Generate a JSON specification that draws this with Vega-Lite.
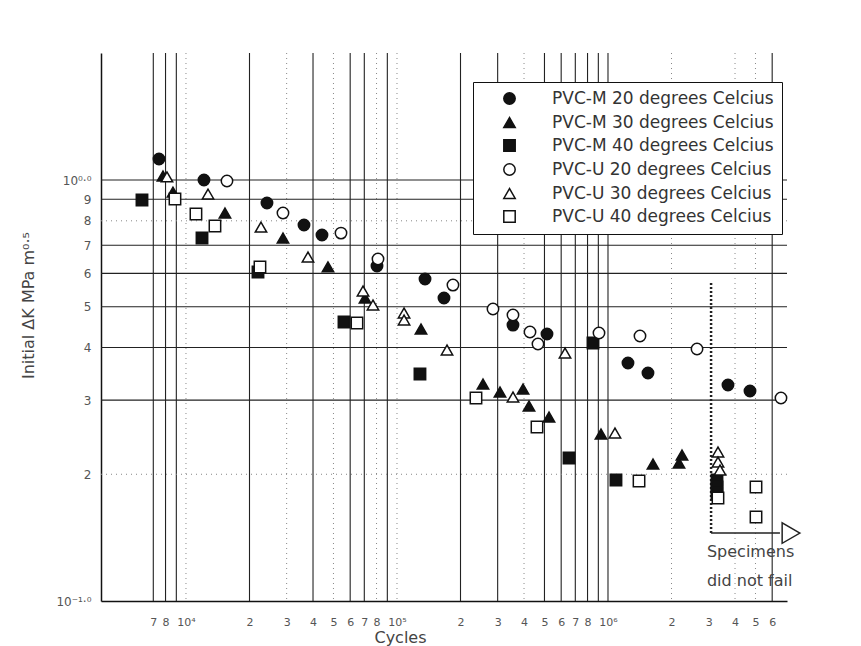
{
  "$schema": "https://vega.github.io/schema/vega-lite/v6.json",
  "width": 686,
  "height": 548,
  "autosize": {"type": "none"},
  "padding": {"left": 101, "top": 53, "right": 74, "bottom": 45},
  "background": "white",
  "config": {
    "view": {"stroke": null},
    "font": "DejaVu Sans",
    "axis": {"grid": false, "ticks": false, "domainColor": "#111", "domainWidth": 1.5, "labelColor": "#555", "labelFont": "DejaVu Sans", "titleFont": "DejaVu Sans", "titleFontWeight": "normal", "titleColor": "#444"},
    "legend": {"title": null, "orient": "none", "legendX": 372, "legendY": 29, "strokeColor": "#111", "fillColor": "white", "padding": 8, "labelFontSize": 17, "labelColor": "#333", "labelFont": "DejaVu Sans", "symbolSize": 130, "symbolStrokeWidth": 1.5, "rowPadding": 5, "labelOffset": 34, "symbolOffset": 20, "labelLimit": 400}
  },
  "datasets": {
    "vsolid": [{"Cycles": 7000}, {"Cycles": 8000}, {"Cycles": 9000}, {"Cycles": 20000}, {"Cycles": 40000}, {"Cycles": 60000}, {"Cycles": 70000}, {"Cycles": 90000}, {"Cycles": 200000}, {"Cycles": 300000}, {"Cycles": 500000}, {"Cycles": 600000}, {"Cycles": 700000}, {"Cycles": 800000}, {"Cycles": 900000}, {"Cycles": 1000000}, {"Cycles": 6000000}],
    "vdot": [{"Cycles": 10000}, {"Cycles": 30000}, {"Cycles": 50000}, {"Cycles": 80000}, {"Cycles": 100000}, {"Cycles": 400000}, {"Cycles": 2000000}, {"Cycles": 4000000}, {"Cycles": 5000000}],
    "hsolid": [{"dK": 1.0}, {"dK": 0.9}, {"dK": 0.7}, {"dK": 0.6}, {"dK": 0.5}, {"dK": 0.4}, {"dK": 0.3}],
    "hdot": [{"dK": 0.8}, {"dK": 0.2}],
    "annv": [{"Cycles": 3080000, "dK": 0.569, "dK2": 0.145}],
    "annh": [{"Cycles": 3080000, "Cycles2": 6530000, "dK": 0.145}],
    "arrow": [{"Cycles": 7370000, "dK": 0.145}],
    "anntext": [{"Cycles": 2945000, "dK": 0.1307, "label": "Specimens"}, {"Cycles": 2945000, "dK": 0.1117, "label": "did not fail"}],
    "points": [
      {"series": "PVC-M 20 degrees Celcius", "Cycles": 7450, "dK": 1.122},
      {"series": "PVC-M 20 degrees Celcius", "Cycles": 12170, "dK": 1.0},
      {"series": "PVC-M 20 degrees Celcius", "Cycles": 24200, "dK": 0.882},
      {"series": "PVC-M 20 degrees Celcius", "Cycles": 36250, "dK": 0.782},
      {"series": "PVC-M 20 degrees Celcius", "Cycles": 44110, "dK": 0.74},
      {"series": "PVC-M 20 degrees Celcius", "Cycles": 80400, "dK": 0.625},
      {"series": "PVC-M 20 degrees Celcius", "Cycles": 135800, "dK": 0.582},
      {"series": "PVC-M 20 degrees Celcius", "Cycles": 167000, "dK": 0.5245},
      {"series": "PVC-M 20 degrees Celcius", "Cycles": 354600, "dK": 0.4523},
      {"series": "PVC-M 20 degrees Celcius", "Cycles": 513900, "dK": 0.4307},
      {"series": "PVC-M 20 degrees Celcius", "Cycles": 1243700, "dK": 0.3675},
      {"series": "PVC-M 20 degrees Celcius", "Cycles": 1547000, "dK": 0.3479},
      {"series": "PVC-M 20 degrees Celcius", "Cycles": 3704000, "dK": 0.3259},
      {"series": "PVC-M 20 degrees Celcius", "Cycles": 4710000, "dK": 0.3154},
      {"series": "PVC-M 30 degrees Celcius", "Cycles": 7780, "dK": 1.022},
      {"series": "PVC-M 30 degrees Celcius", "Cycles": 8678, "dK": 0.936},
      {"series": "PVC-M 30 degrees Celcius", "Cycles": 15300, "dK": 0.835},
      {"series": "PVC-M 30 degrees Celcius", "Cycles": 28820, "dK": 0.7284},
      {"series": "PVC-M 30 degrees Celcius", "Cycles": 47100, "dK": 0.6216},
      {"series": "PVC-M 30 degrees Celcius", "Cycles": 70540, "dK": 0.5245},
      {"series": "PVC-M 30 degrees Celcius", "Cycles": 129950, "dK": 0.4426},
      {"series": "PVC-M 30 degrees Celcius", "Cycles": 255600, "dK": 0.3277},
      {"series": "PVC-M 30 degrees Celcius", "Cycles": 307700, "dK": 0.3137},
      {"series": "PVC-M 30 degrees Celcius", "Cycles": 395600, "dK": 0.3189},
      {"series": "PVC-M 30 degrees Celcius", "Cycles": 422300, "dK": 0.2905},
      {"series": "PVC-M 30 degrees Celcius", "Cycles": 525300, "dK": 0.2735},
      {"series": "PVC-M 30 degrees Celcius", "Cycles": 926400, "dK": 0.2493},
      {"series": "PVC-M 30 degrees Celcius", "Cycles": 1634000, "dK": 0.2115},
      {"series": "PVC-M 30 degrees Celcius", "Cycles": 2242000, "dK": 0.2222},
      {"series": "PVC-M 30 degrees Celcius", "Cycles": 2170000, "dK": 0.2127},
      {"series": "PVC-M 40 degrees Celcius", "Cycles": 6187, "dK": 0.8964},
      {"series": "PVC-M 40 degrees Celcius", "Cycles": 11910, "dK": 0.7284},
      {"series": "PVC-M 40 degrees Celcius", "Cycles": 21940, "dK": 0.6045},
      {"series": "PVC-M 40 degrees Celcius", "Cycles": 56080, "dK": 0.4601},
      {"series": "PVC-M 40 degrees Celcius", "Cycles": 128500, "dK": 0.346},
      {"series": "PVC-M 40 degrees Celcius", "Cycles": 849000, "dK": 0.4101},
      {"series": "PVC-M 40 degrees Celcius", "Cycles": 653600, "dK": 0.2186},
      {"series": "PVC-M 40 degrees Celcius", "Cycles": 1091000, "dK": 0.1938},
      {"series": "PVC-M 40 degrees Celcius", "Cycles": 3285000, "dK": 0.1938},
      {"series": "PVC-M 40 degrees Celcius", "Cycles": 3285000, "dK": 0.1866},
      {"series": "PVC-M 40 degrees Celcius", "Cycles": 3285000, "dK": 0.1805},
      {"series": "PVC-U 20 degrees Celcius", "Cycles": 15640, "dK": 0.9945},
      {"series": "PVC-U 20 degrees Celcius", "Cycles": 28820, "dK": 0.835},
      {"series": "PVC-U 20 degrees Celcius", "Cycles": 54280, "dK": 0.748},
      {"series": "PVC-U 20 degrees Celcius", "Cycles": 81280, "dK": 0.6493},
      {"series": "PVC-U 20 degrees Celcius", "Cycles": 184200, "dK": 0.5629},
      {"series": "PVC-U 20 degrees Celcius", "Cycles": 285100, "dK": 0.4938},
      {"series": "PVC-U 20 degrees Celcius", "Cycles": 354600, "dK": 0.4779},
      {"series": "PVC-U 20 degrees Celcius", "Cycles": 426900, "dK": 0.4355},
      {"series": "PVC-U 20 degrees Celcius", "Cycles": 465800, "dK": 0.4078},
      {"series": "PVC-U 20 degrees Celcius", "Cycles": 906500, "dK": 0.4331},
      {"series": "PVC-U 20 degrees Celcius", "Cycles": 1418000, "dK": 0.4261},
      {"series": "PVC-U 20 degrees Celcius", "Cycles": 2642000, "dK": 0.3968},
      {"series": "PVC-U 20 degrees Celcius", "Cycles": 6604000, "dK": 0.3035},
      {"series": "PVC-U 30 degrees Celcius", "Cycles": 8128, "dK": 1.017},
      {"series": "PVC-U 30 degrees Celcius", "Cycles": 12720, "dK": 0.926},
      {"series": "PVC-U 30 degrees Celcius", "Cycles": 22670, "dK": 0.773},
      {"series": "PVC-U 30 degrees Celcius", "Cycles": 37860, "dK": 0.6563},
      {"series": "PVC-U 30 degrees Celcius", "Cycles": 69020, "dK": 0.545},
      {"series": "PVC-U 30 degrees Celcius", "Cycles": 76960, "dK": 0.5047},
      {"series": "PVC-U 30 degrees Celcius", "Cycles": 108000, "dK": 0.4832},
      {"series": "PVC-U 30 degrees Celcius", "Cycles": 108000, "dK": 0.465},
      {"series": "PVC-U 30 degrees Celcius", "Cycles": 172600, "dK": 0.3946},
      {"series": "PVC-U 30 degrees Celcius", "Cycles": 354600, "dK": 0.3052},
      {"series": "PVC-U 30 degrees Celcius", "Cycles": 625600, "dK": 0.3882},
      {"series": "PVC-U 30 degrees Celcius", "Cycles": 1079000, "dK": 0.2506},
      {"series": "PVC-U 30 degrees Celcius", "Cycles": 3321000, "dK": 0.2259},
      {"series": "PVC-U 30 degrees Celcius", "Cycles": 3321000, "dK": 0.2139},
      {"series": "PVC-U 30 degrees Celcius", "Cycles": 3395000, "dK": 0.2047},
      {"series": "PVC-U 40 degrees Celcius", "Cycles": 8868, "dK": 0.901},
      {"series": "PVC-U 40 degrees Celcius", "Cycles": 11150, "dK": 0.83},
      {"series": "PVC-U 40 degrees Celcius", "Cycles": 13720, "dK": 0.7776},
      {"series": "PVC-U 40 degrees Celcius", "Cycles": 22420, "dK": 0.6216},
      {"series": "PVC-U 40 degrees Celcius", "Cycles": 64620, "dK": 0.4575},
      {"series": "PVC-U 40 degrees Celcius", "Cycles": 236800, "dK": 0.3035},
      {"series": "PVC-U 40 degrees Celcius", "Cycles": 460800, "dK": 0.259},
      {"series": "PVC-U 40 degrees Celcius", "Cycles": 1403000, "dK": 0.1928},
      {"series": "PVC-U 40 degrees Celcius", "Cycles": 3321000, "dK": 0.1757},
      {"series": "PVC-U 40 degrees Celcius", "Cycles": 5029000, "dK": 0.1866},
      {"series": "PVC-U 40 degrees Celcius", "Cycles": 5029000, "dK": 0.1583}
    ]
  },
  "layer": [
    {
      "data": {"name": "vsolid"},
      "mark": {"type": "rule", "color": "#222", "strokeWidth": 1.1},
      "encoding": {"x": {"field": "Cycles", "type": "quantitative", "scale": {"type": "log", "domain": [3956, 7053000], "nice": false}}}
    },
    {
      "data": {"name": "vdot"},
      "mark": {"type": "rule", "color": "#888", "strokeWidth": 1, "strokeDash": [1, 4]},
      "encoding": {"x": {"field": "Cycles", "type": "quantitative", "scale": {"type": "log", "domain": [3956, 7053000], "nice": false}}}
    },
    {
      "data": {"name": "hsolid"},
      "mark": {"type": "rule", "color": "#222", "strokeWidth": 1.1},
      "encoding": {"y": {"field": "dK", "type": "quantitative", "scale": {"type": "log", "domain": [0.1, 2.003], "nice": false}}}
    },
    {
      "data": {"name": "hdot"},
      "mark": {"type": "rule", "color": "#888", "strokeWidth": 1, "strokeDash": [1, 4]},
      "encoding": {"y": {"field": "dK", "type": "quantitative", "scale": {"type": "log", "domain": [0.1, 2.003], "nice": false}}}
    },
    {
      "data": {"name": "annv"},
      "mark": {"type": "rule", "color": "#222", "strokeWidth": 2.5, "strokeDash": [2, 2]},
      "encoding": {
        "x": {"field": "Cycles", "type": "quantitative", "scale": {"type": "log", "domain": [3956, 7053000], "nice": false}},
        "y": {"field": "dK", "type": "quantitative", "scale": {"type": "log", "domain": [0.1, 2.003], "nice": false}},
        "y2": {"field": "dK2"}
      }
    },
    {
      "data": {"name": "annh"},
      "mark": {"type": "rule", "color": "#222", "strokeWidth": 1.5},
      "encoding": {
        "x": {"field": "Cycles", "type": "quantitative", "scale": {"type": "log", "domain": [3956, 7053000], "nice": false}},
        "x2": {"field": "Cycles2"},
        "y": {"field": "dK", "type": "quantitative", "scale": {"type": "log", "domain": [0.1, 2.003], "nice": false}}
      }
    },
    {
      "data": {"name": "arrow"},
      "mark": {"type": "point", "shape": "triangle-right", "size": 420, "filled": true, "fill": "white", "stroke": "#222", "strokeWidth": 1.5, "opacity": 1, "clip": false},
      "encoding": {
        "x": {"field": "Cycles", "type": "quantitative", "scale": {"type": "log", "domain": [3956, 7053000], "nice": false}},
        "y": {"field": "dK", "type": "quantitative", "scale": {"type": "log", "domain": [0.1, 2.003], "nice": false}}
      }
    },
    {
      "data": {"name": "anntext"},
      "mark": {"type": "text", "align": "left", "baseline": "middle", "fontSize": 16, "color": "#444", "font": "DejaVu Sans"},
      "encoding": {
        "x": {"field": "Cycles", "type": "quantitative", "scale": {"type": "log", "domain": [3956, 7053000], "nice": false}},
        "y": {"field": "dK", "type": "quantitative", "scale": {"type": "log", "domain": [0.1, 2.003], "nice": false}},
        "text": {"field": "label"}
      }
    },
    {
      "data": {"name": "points"},
      "mark": {"type": "point", "filled": true, "strokeWidth": 1.5, "size": 130, "opacity": 1},
      "encoding": {
        "x": {
          "field": "Cycles", "type": "quantitative",
          "scale": {"type": "log", "domain": [3956, 7053000], "nice": false},
          "axis": {
            "title": "Cycles",
            "values": [7000, 8000, 10000, 20000, 30000, 40000, 50000, 60000, 70000, 80000, 100000, 200000, 300000, 400000, 500000, 600000, 700000, 800000, 1000000, 2000000, 3000000, 4000000, 5000000, 6000000],
            "labelExpr": "datum.value==10000?'10⁴':datum.value==100000?'10⁵':datum.value==1000000?'10⁶':''+round(datum.value/pow(10,floor(log(datum.value)/LN10+0.000001)))",
            "labelOverlap": false,
            "labelFlush": false,
            "labelPadding": 15,
            "labelFontSize": 11,
            "titleFontSize": 16,
            "titleX": 299,
            "titleY": 36,
            "titleBaseline": "middle"
          }
        },
        "y": {
          "field": "dK", "type": "quantitative",
          "scale": {"type": "log", "domain": [0.1, 2.003], "nice": false},
          "axis": {
            "title": "Initial ΔK MPa m⁰·⁵",
            "values": [0.1, 0.2, 0.3, 0.4, 0.5, 0.6, 0.7, 0.8, 0.9, 1.0],
            "labelExpr": "datum.value>0.95?'10⁰·⁰':datum.value<0.15?'10⁻¹·⁰':''+round(datum.value*10)",
            "labelOverlap": false,
            "labelFlush": false,
            "labelPadding": 10,
            "labelFontSize": 12,
            "titleFontSize": 16,
            "titleX": -73,
            "titleY": 252,
            "titleAlign": "center",
            "titleBaseline": "middle"
          }
        },
        "fill": {
          "field": "series", "type": "nominal",
          "scale": {"domain": ["PVC-M 20 degrees Celcius", "PVC-M 30 degrees Celcius", "PVC-M 40 degrees Celcius", "PVC-U 20 degrees Celcius", "PVC-U 30 degrees Celcius", "PVC-U 40 degrees Celcius"], "range": ["#111", "#111", "#111", "white", "white", "white"]}
        },
        "stroke": {
          "field": "series", "type": "nominal",
          "scale": {"domain": ["PVC-M 20 degrees Celcius", "PVC-M 30 degrees Celcius", "PVC-M 40 degrees Celcius", "PVC-U 20 degrees Celcius", "PVC-U 30 degrees Celcius", "PVC-U 40 degrees Celcius"], "range": ["#111", "#111", "#111", "#111", "#111", "#111"]}
        },
        "shape": {
          "field": "series", "type": "nominal",
          "scale": {"domain": ["PVC-M 20 degrees Celcius", "PVC-M 30 degrees Celcius", "PVC-M 40 degrees Celcius", "PVC-U 20 degrees Celcius", "PVC-U 30 degrees Celcius", "PVC-U 40 degrees Celcius"], "range": ["circle", "triangle-up", "square", "circle", "triangle-up", "square"]}
        }
      }
    }
  ]
}
